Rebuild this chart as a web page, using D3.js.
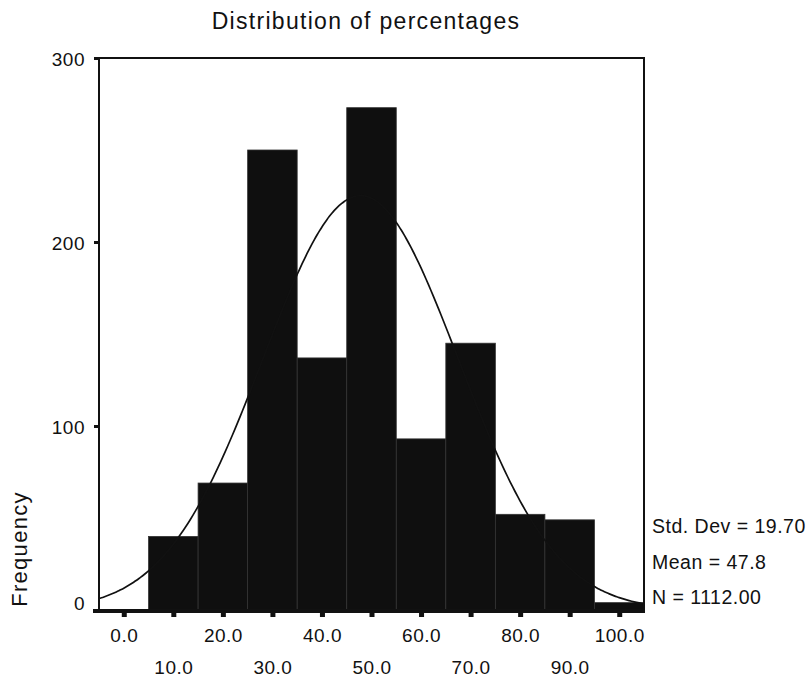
<!DOCTYPE html>
<html>
<head>
<meta charset="utf-8">
<script src="https://cdn.jsdelivr.net/npm/d3@7"></script>
<style>
    body { margin: 0; background: #fff; }
    text { font-family: "Liberation Sans", Arial, sans-serif; fill: #111; }
</style>
</head>
<body>
<svg id="chart" width="808" height="680"></svg>
<script>
/*
** Chart data
 */

var bin_centres = [0, 10, 20, 30, 40, 50, 60, 70, 80, 90, 100];
var frequencies = [0, 40, 69, 250, 137, 273, 93, 145, 52, 49, 4];
var y_ticks = [0, 100, 200, 300];
var x_ticks = [0, 10, 20, 30, 40, 50, 60, 70, 80, 90, 100];
var stat_labels = ['Std. Dev = 19.70', 'Mean = 47.8', 'N = 1112.00'];
var std_dev = 19.70;
var mean = 47.8;
var n_cases = 1112;
var bin_width = 10;

/*
** Layout
 */

var plot_left = 99, plot_right = 644, plot_top = 58, plot_bottom = 610;

var svg = d3.select('#chart');

var x = d3.scaleLinear().domain([-5, 105]).range([plot_left, plot_right]);
var y = d3.scaleLinear().domain([0, 300]).range([plot_bottom, plot_top]);

// Title
svg.append('text')
    .attr('x', 366)
    .attr('y', 28.5)
    .attr('text-anchor', 'middle')
    .style('font-size', '23px')
    .style('letter-spacing', '1.3px')
    .text('Distribution of percentages');

// Bars
svg.append('g')
    .selectAll('rect')
    .data(bin_centres)
    .enter()
    .append('rect')
    .attr('x', function (d) { return x(d - bin_width / 2); })
    .attr('width', function (d) { return x(bin_width) - x(0); })
    .attr('y', function (d, i) { return y(frequencies[i]); })
    .attr('height', function (d, i) { return y(0) - y(frequencies[i]); })
    .attr('fill', '#0f0f0f')
    .attr('stroke', function (d, i) { return frequencies[i] > 0 ? '#333' : 'none'; })
    .attr('stroke-width', 0.8);

// Normal curve fitted from mean / std dev
var curve_x = d3.range(-5, 105.01, 0.5);
var line = d3.line()
    .x(function (d) { return x(d); })
    .y(function (d) {
        var z = (d - mean) / std_dev;
        return y(n_cases * bin_width / (std_dev * Math.sqrt(2 * Math.PI)) * Math.exp(-0.5 * z * z));
    })
    .curve(d3.curveBasis);
svg.append('path')
    .datum(curve_x)
    .attr('d', line)
    .attr('fill', 'none')
    .attr('stroke', '#111')
    .attr('stroke-width', 1.7);

// Frame (left, top, right)
svg.append('path')
    .attr('d', 'M' + plot_left + ',' + (plot_bottom + 2) + 'V' + plot_top + 'H' + plot_right + 'V' + (plot_bottom + 2))
    .attr('fill', 'none')
    .attr('stroke', '#111')
    .attr('stroke-width', 2);

// Thick bottom axis line
svg.append('line')
    .attr('x1', plot_left - 6)
    .attr('x2', plot_right + 1)
    .attr('y1', plot_bottom + 1)
    .attr('y2', plot_bottom + 1)
    .attr('stroke', '#111')
    .attr('stroke-width', 4);

/*
** Y axis
 */

var y_axis = d3.axisLeft(y)
    .tickValues(y_ticks)
    .tickSize(5)
    .tickPadding(9)
    .tickFormat(d3.format('d'));
var gy = svg.append('g')
    .attr('transform', 'translate(' + plot_left + ',0)')
    .call(y_axis);
gy.select('.domain').remove();
gy.selectAll('.tick line').attr('stroke', '#111').attr('stroke-width', 3);
gy.selectAll('.tick text')
    .style('font-size', '19px')
    .style('letter-spacing', '0.5px')
    .attr('dy', function (d) { return d == 0 ? '-0.05em' : '0.42em'; });

/*
** X axis, labels in two staggered rows
 */

var x_axis = d3.axisBottom(x)
    .tickValues(x_ticks)
    .tickSize(0)
    .tickFormat(d3.format('.1f'));
var gx = svg.append('g')
    .attr('transform', 'translate(0,' + (plot_bottom + 3) + ')')
    .call(x_axis);
gx.select('.domain').remove();
gx.selectAll('.tick')
    .append('rect')
    .attr('x', -2.5)
    .attr('y', 0)
    .attr('width', 5)
    .attr('height', 4)
    .attr('fill', '#111');
gx.selectAll('.tick text')
    .style('font-size', '19px')
    .style('letter-spacing', '0.5px')
    .attr('dy', null)
    .attr('y', function (d) { return (d / 10) % 2 == 0 ? 29 : 61; });

// Y axis title
svg.append('text')
    .attr('transform', 'translate(27,549) rotate(-90)')
    .attr('text-anchor', 'middle')
    .style('font-size', '22px')
    .style('letter-spacing', '1.3px')
    .text('Frequency');

// Stats legend
svg.append('g')
    .selectAll('text')
    .data(stat_labels)
    .enter()
    .append('text')
    .attr('x', 652)
    .attr('y', function (d, i) { return 533 + i * 35.5; })
    .style('font-size', '19.5px')
    .style('letter-spacing', '0.5px')
    .text(function (d) { return d; });
</script>
</body>
</html>
